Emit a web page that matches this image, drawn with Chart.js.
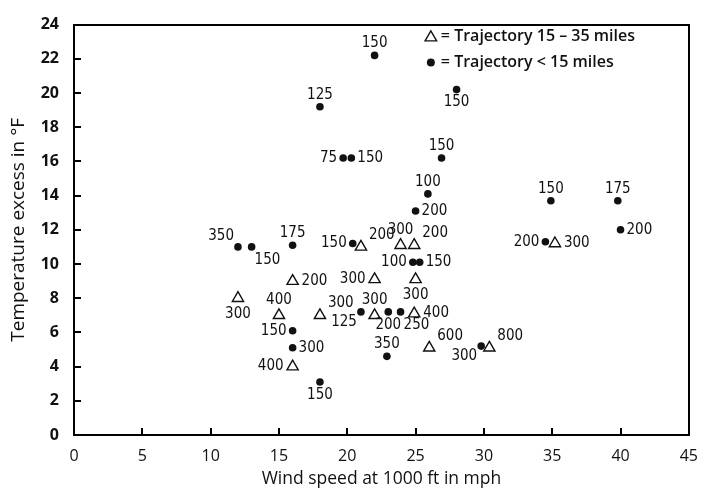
<!DOCTYPE html>
<html>
<head>
<meta charset="utf-8">
<script src="https://cdn.jsdelivr.net/npm/chart.js@4.4.1/dist/chart.umd.min.js"></script>
<style>
  html, body { margin: 0; padding: 0; background: #fff; overflow: hidden; }
  #wrap { position: relative; width: 706px; height: 490px; }
  #wrap canvas { display: block; }
</style>
</head>
<body>
<div id="wrap"><canvas id="chart"></canvas></div>
<script>
// Trajectory 15-35 miles (open triangles)
const triX = [12, 15, 16, 16, 18, 21, 22, 22, 23.9, 24.9, 25, 24.9, 26, 30.4, 35.2];
const triY = [8, 7, 9, 4, 7, 11, 9.1, 7, 11.1, 11.1, 9.1, 7.1, 5.1, 5.1, 11.2];
const triLabels = ['300', '400', '200', '400', '300', '200', '300', '300', '300', '200', '300', '400', '600', '800', '300'];
const triPlace = ['b', 'a', 'r', 'l', 'ar', 'ar', 'l', 'a', 'a', 'ar', 'b', 'r', 'ar', 'ar', 'r'];

// Trajectory < 15 miles (filled dots)
const dotX = [12, 13, 16, 20.4, 16, 16, 18, 21, 22, 18, 19.7, 20.3, 28, 26.9, 25.9, 25, 34.9, 39.8, 40, 34.5, 24.8, 25.3, 23, 23.9, 22.9, 29.8];
const dotY = [11, 11, 11.1, 11.2, 6.1, 5.1, 3.1, 7.2, 22.2, 19.2, 16.2, 16.2, 20.2, 16.2, 14.1, 13.1, 13.7, 13.7, 12, 11.3, 10.1, 10.1, 7.2, 7.2, 4.6, 5.2];
const dotLabels = ['350', '150', '175', '150', '150', '300', '150', '125', '150', '125', '75', '150', '150', '150', '100', '200', '150', '175', '200', '200', '100', '150', '200', '250', '350', '300'];
const dotPlace = ['al', 'br', 'a', 'l', 'l', 'r', 'b', 'bl', 'a', 'a', 'l', 'r', 'b', 'a', 'a', 'r', 'a', 'a', 'r', 'l', 'l', 'r', 'b', 'br', 'a', 'bl'];

const xTicks = [0, 5, 10, 15, 20, 25, 30, 35, 40, 45];
const yTicks = [0, 2, 4, 6, 8, 10, 12, 14, 16, 18, 20, 22, 24];

const legendItems = ['= Trajectory 15 \u2013 35 miles', '= Trajectory < 15 miles'];

const INK = '#111';
const SANS = "'Open Sans', 'Liberation Sans', Arial, sans-serif";
const labelFont = "15px 'Liberation Sans Narrow', 'DejaVu Sans Condensed', 'Liberation Sans', sans-serif";

const toPoints = (xs, ys) => xs.map((x, i) => ({ x, y: ys[i] }));

// box frame with inward ticks
const frame = {
  id: 'frame',
  afterDraw(chart) {
    const { ctx, scales } = chart;
    const L = Math.round(scales.x.left), R = Math.round(scales.x.right);
    const T = Math.round(scales.y.top), B = Math.round(scales.y.bottom);
    ctx.save();
    ctx.globalAlpha = 1;
    ctx.globalCompositeOperation = 'source-over';
    ctx.fillStyle = '#000';
    ctx.fillRect(L - 1, T - 1, R - L + 2, 2);
    ctx.fillRect(L - 1, B - 1, R - L + 2, 2);
    ctx.fillRect(L - 1, T - 1, 2, B - T + 2);
    ctx.fillRect(R - 1, T - 1, 2, B - T + 2);
    scales.y.ticks.forEach(t => {
      const py = Math.round(scales.y.getPixelForValue(t.value));
      ctx.fillRect(L, py - 1, 7, 2);
    });
    scales.x.ticks.forEach(t => {
      const px = Math.round(scales.x.getPixelForValue(t.value));
      ctx.fillRect(px - 1, B - 7, 2, 7);
    });
    ctx.restore();
  }
};

// point labels and the symbol legend
const overlay = {
  id: 'overlay',
  afterDatasetsDraw(chart) {
    const { ctx, scales } = chart;
    ctx.save();
    ctx.font = labelFont;
    ctx.fillStyle = INK;
    chart.data.datasets.forEach((ds, di) => {
      const meta = chart.getDatasetMeta(di);
      const g = ds.pointStyle === 'triangle' ? 3 : 0;
      meta.data.forEach((el, i) => {
        let dx = 0, dy = 0, align = 'center';
        switch (ds.place[i]) {
          case 'a': dy = -12 - g; break;
          case 'b': dy = 13 + g; break;
          case 'l': dx = -6 - g; align = 'right'; break;
          case 'r': dx = 6 + g; align = 'left'; break;
          case 'ar': dx = 5 + g; dy = -9 - g; align = 'left'; break;
          case 'al': dx = -4; dy = -11; align = 'right'; break;
          case 'bl': dx = -4; dy = 10; align = 'right'; break;
          case 'br': dx = 3; dy = 13; align = 'left'; break;
        }
        ctx.textAlign = align;
        ctx.textBaseline = 'middle';
        ctx.fillText(ds.labels[i], el.x + dx, el.y + dy);
      });
    });

    const lx = scales.x.right - 258;
    const ly = scales.y.top + 12;
    ctx.beginPath();
    ctx.moveTo(lx, ly - 7);
    ctx.lineTo(lx + 7, ly + 5);
    ctx.lineTo(lx - 7, ly + 5);
    ctx.closePath();
    ctx.moveTo(lx, ly - 4.3);
    ctx.lineTo(lx - 4.6, ly + 3.6);
    ctx.lineTo(lx + 4.6, ly + 3.6);
    ctx.closePath();
    ctx.fill('evenodd');
    ctx.beginPath();
    ctx.arc(lx, ly + 26, 4, 0, Math.PI * 2);
    ctx.fill();
    ctx.font = '600 16px ' + SANS;
    ctx.textAlign = 'left';
    ctx.fillText(legendItems[0], lx + 10, ly);
    ctx.fillText(legendItems[1], lx + 10, ly + 26);
    ctx.restore();
  }
};

new Chart(document.getElementById('chart'), {
  type: 'scatter',
  data: {
    datasets: [
      {
        label: 'Trajectory 15-35 miles',
        data: toPoints(triX, triY),
        labels: triLabels,
        place: triPlace,
        pointStyle: 'triangle',
        pointRadius: 6.5,
        borderColor: INK,
        backgroundColor: 'rgba(0,0,0,0)',
        borderWidth: 1.4
      },
      {
        label: 'Trajectory < 15 miles',
        data: toPoints(dotX, dotY),
        labels: dotLabels,
        place: dotPlace,
        pointStyle: 'circle',
        pointRadius: 3.8,
        borderColor: INK,
        backgroundColor: INK,
        borderWidth: 0
      }
    ]
  },
  options: {
    responsive: true,
    maintainAspectRatio: false,
    animation: false,
    events: [],
    layout: { padding: { top: 21, right: 4, left: 0, bottom: 0 } },
    plugins: {
      legend: { display: false },
      tooltip: { enabled: false }
    },
    scales: {
      x: {
        type: 'linear',
        min: 0,
        max: 45,
        afterBuildTicks: s => { s.ticks = xTicks.map(v => ({ value: v })); },
        afterFit: s => { s.height = 55; },
        grid: { display: false, drawTicks: true, tickLength: 4 },
        border: { display: false },
        ticks: {
          color: INK,
          padding: 8,
          maxRotation: 0,
          font: { family: SANS, size: 16 }
        },
        title: {
          display: true,
          text: 'Wind speed at 1000 ft in mph',
          color: INK,
          font: { family: SANS, size: 17.5 },
          padding: { top: 0, bottom: 0 }
        }
      },
      y: {
        type: 'linear',
        min: 0,
        max: 24,
        afterBuildTicks: s => { s.ticks = yTicks.map(v => ({ value: v })); },
        afterFit: s => { s.width = 74; },
        grid: { display: false, drawTicks: false },
        border: { display: false },
        ticks: {
          color: INK,
          padding: 15,
          font: { family: SANS, size: 16, weight: 'bold' }
        },
        title: {
          display: true,
          text: 'Temperature excess in \u00B0F',
          color: INK,
          font: { family: SANS, size: 19 },
          padding: { top: 7, bottom: 0 }
        }
      }
    }
  },
  plugins: [frame, overlay]
});
</script>
</body>
</html>
